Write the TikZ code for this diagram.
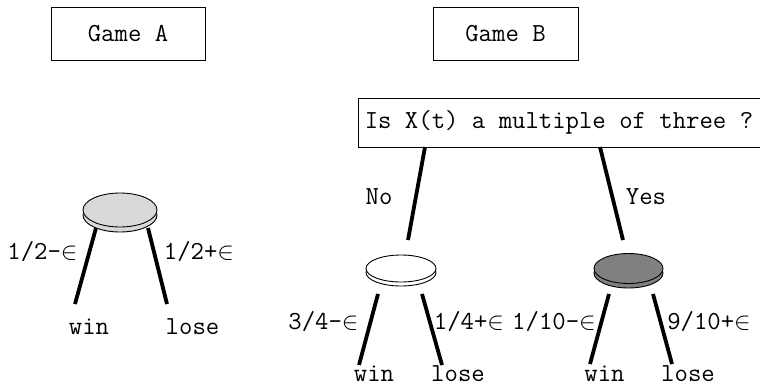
\documentclass[tikz,border=0pt]{standalone}
\usepackage{fontspec}
\usetikzlibrary{shapes.geometric}
\newcommand{\myeps}{$\in$}
\definecolor{gA}{HTML}{D9D9D9}
\definecolor{gY}{HTML}{808080}
\tikzset{
  titlebox/.style={draw, line width=1pt, inner sep=0pt, minimum height=53pt},
  coin/.style={ellipse, draw, line width=0.9pt, inner sep=0pt},
  branch/.style={line width=3.8pt},
  lbl/.style={inner sep=0pt, anchor=center},
  btm/.style={inner sep=0pt, anchor=base}
}
\begin{document}
\begin{tikzpicture}[x=1pt,y=-1pt, font=\ttfamily\fontsize{26}{30}\selectfont]
\useasboundingbox (0,0) rectangle (760,388);

% titles
\node[titlebox, minimum width=154pt] (ga) at (128,33.5) {Game A};
\node[titlebox, minimum width=145pt] (gb) at (505.5,33.5) {Game B};
\node[draw, line width=1pt, inner sep=0pt, minimum width=402pt, minimum height=49pt] (q) at (559,122.5) {Is X(t) a multiple of three ?};

% coordinates
\coordinate (a1) at (96,228);   \coordinate (aw) at (75,304);
\coordinate (a2) at (148,228);  \coordinate (al) at (167,304);
\coordinate (q1) at (425,147);  \coordinate (qn) at (408,240);
\coordinate (q2) at (600,147);  \coordinate (qy) at (623,240);
\coordinate (n1) at (378,294);  \coordinate (nw) at (359,365);
\coordinate (n2) at (422,294);  \coordinate (nl) at (442,365);
\coordinate (y1) at (609,294);  \coordinate (yw) at (590,364);
\coordinate (y2) at (653,294);  \coordinate (yl) at (672,364);

% branches
\draw[branch] (a1) -- (aw);
\draw[branch] (a2) -- (al);
\draw[branch] (q1) -- (qn);
\draw[branch] (q2) -- (qy);
\draw[branch] (n1) -- (nw);
\draw[branch] (n2) -- (nl);
\draw[branch] (y1) -- (yw);
\draw[branch] (y2) -- (yl);

% coins
\draw[line width=0.9pt, fill=gA] (120,215) ellipse [x radius=37pt, y radius=17pt];
\node[coin, fill=gA, minimum width=74pt, minimum height=34pt] (ca) at (120,210) {};
\draw[line width=0.9pt, fill=white] (401,272.5) ellipse [x radius=35pt, y radius=13.5pt];
\node[coin, fill=white, minimum width=70pt, minimum height=27pt] (cn) at (401,268.5) {};
\draw[line width=0.9pt, fill=gY] (628.5,273) ellipse [x radius=34.5pt, y radius=15pt];
\node[coin, fill=gY, minimum width=69pt, minimum height=30pt] (cy) at (628.5,268.5) {};

% labels
\node[lbl] (la1) at (42.5,252) {1/2-\myeps};
\node[lbl] (la2) at (199,252) {1/2+\myeps};
\node[lbl] (law) at (89,327) {win};
\node[lbl] (lal) at (192.5,327) {lose};
\node[lbl] (lno) at (379,197) {No};
\node[lbl] (lye) at (646,197) {Yes};
\node[lbl] (ln1) at (323.5,322) {3/4-\myeps};
\node[lbl] (ln2) at (469,322) {1/4+\myeps};
\node[btm] (lnw) at (374,381.5) {win};
\node[btm] (lnl) at (458,381.5) {lose};
\node[lbl] (ly1) at (554,322) {1/10-\myeps};
\node[lbl] (ly2) at (709,322) {9/10+\myeps};
\node[btm] (lyw) at (604.5,381.5) {win};
\node[btm] (lyl) at (688,381.5) {lose};
\end{tikzpicture}
\end{document}
